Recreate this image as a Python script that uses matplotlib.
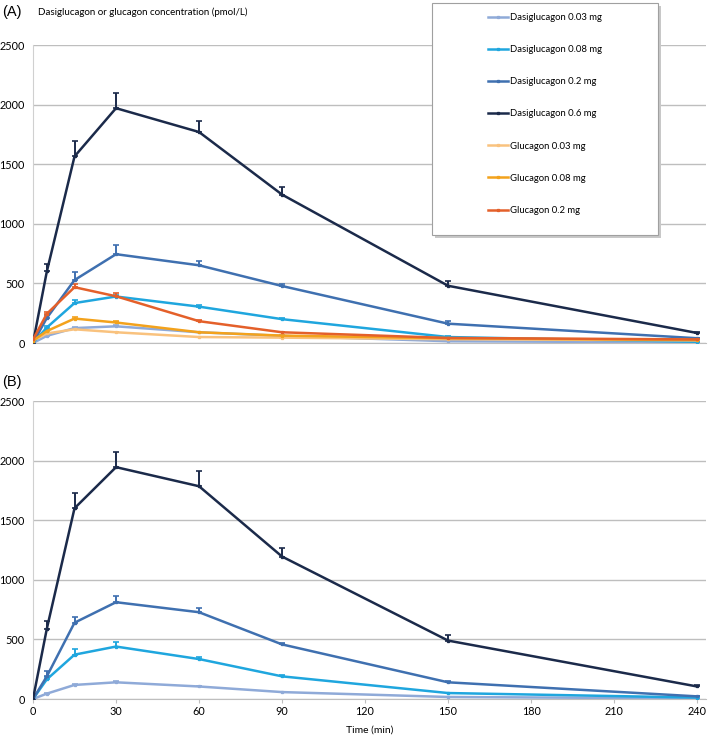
import numpy as np
import matplotlib.pyplot as plt
from matplotlib.patches import Rectangle

plt.rcParams['font.family'] = ['Lato', 'DejaVu Sans']

# --- sampling times (min) ---
TIME = [0, 5, 15, 30, 60, 90, 150, 240]

# --- panel A : mean concentration (pmol/L) ---
A_DASI_003 = [0, 60, 125, 140, 90, 60, 15, 5]
A_DASI_008 = [0, 130, 335, 390, 305, 200, 50, 10]
A_DASI_02 = [0, 210, 528, 745, 652, 478, 162, 40]
A_DASI_06 = [0, 600, 1565, 1970, 1770, 1245, 480, 84]
A_GLUC_003 = [20, 80, 115, 90, 50, 45, 32, 22]
A_GLUC_008 = [20, 100, 205, 172, 90, 62, 40, 25]
A_GLUC_02 = [30, 245, 468, 392, 183, 90, 42, 30]

# --- panel A : upper error (SD) ---
A_DASI_003_ERR = [0, 5, 10, 12, 6, 4, 2, 1]
A_DASI_008_ERR = [0, 15, 25, 15, 15, 10, 5, 2]
A_DASI_02_ERR = [0, 25, 65, 75, 38, 15, 20, 5]
A_DASI_06_ERR = [0, 60, 130, 125, 90, 60, 40, 8]
A_GLUC_003_ERR = [0, 5, 5, 5, 3, 3, 2, 1]
A_GLUC_008_ERR = [0, 8, 10, 10, 5, 4, 3, 2]
A_GLUC_02_ERR = [0, 12, 30, 25, 10, 6, 4, 3]

# --- panel B ---
B_DASI_003 = [0, 45, 118, 140, 105, 58, 17, 5]
B_DASI_008 = [0, 165, 372, 440, 335, 190, 50, 12]
B_DASI_02 = [0, 190, 640, 812, 728, 458, 140, 22]
B_DASI_06 = [0, 590, 1600, 1945, 1785, 1195, 490, 105]

B_DASI_003_ERR = [0, 5, 8, 8, 6, 4, 2, 1]
B_DASI_008_ERR = [0, 20, 45, 40, 15, 8, 4, 2]
B_DASI_02_ERR = [0, 45, 45, 50, 35, 15, 8, 3]
B_DASI_06_ERR = [0, 65, 125, 125, 125, 70, 45, 10]

LABELS = [
    "Dasiglucagon 0.03 mg", "Dasiglucagon 0.08 mg", "Dasiglucagon 0.2 mg",
    "Dasiglucagon 0.6 mg", "Glucagon 0.03 mg", "Glucagon 0.08 mg", "Glucagon 0.2 mg",
]
COLORS = ["#8FAAD8", "#1FA6DE", "#3F70B0", "#1B2A4A", "#F9C27E", "#F3A21C", "#E4602A"]

Y_TICKS = [0, 500, 1000, 1500, 2000, 2500]
X_TICKS = [0, 30, 60, 90, 120, 150, 180, 210, 240]


def draw_series(ax, y, err, color, label):
    y = np.array(y, dtype=float)
    err = np.array(err, dtype=float)
    ax.errorbar(TIME, y, yerr=[np.zeros_like(err), err], color=color,
                lw=1.8, elinewidth=1.4, capsize=2.5, capthick=1.2,
                marker="s", markersize=1.4, label=label, zorder=3)


def style_axes(ax, show_x):
    # gridlines run a little past the last time point, as in the original
    ax.set_xlim(0, 243.2)
    ax.set_ylim(0, 2500)
    ax.set_yticks(Y_TICKS)
    ax.set_xticks(X_TICKS)
    ax.grid(axis="y", color="#BEBEBE", lw=1.0)
    ax.set_axisbelow(True)
    for s in ["top", "right"]:
        ax.spines[s].set_visible(False)
    ax.spines["left"].set_color("#D0D0D0")
    ax.spines["bottom"].set_color("#BEBEBE")
    ax.tick_params(axis="y", length=0, labelsize=7.8, pad=6)
    if show_x:
        ax.tick_params(axis="x", length=3, color="#BEBEBE", labelsize=7.8, pad=2)
    else:
        ax.tick_params(axis="x", length=0, labelbottom=False)


fig = plt.figure(figsize=(7.09, 7.41), dpi=100)
ax_a = fig.add_axes([33 / 709, 1 - 343 / 741, 673 / 709, 298 / 741])
ax_b = fig.add_axes([33 / 709, 1 - 699 / 741, 673 / 709, 298 / 741])

panel_a = [
    (A_DASI_003, A_DASI_003_ERR), (A_DASI_008, A_DASI_008_ERR),
    (A_DASI_02, A_DASI_02_ERR), (A_DASI_06, A_DASI_06_ERR),
    (A_GLUC_003, A_GLUC_003_ERR), (A_GLUC_008, A_GLUC_008_ERR),
    (A_GLUC_02, A_GLUC_02_ERR),
]
for (y, e), c, lab in zip(panel_a, COLORS, LABELS):
    draw_series(ax_a, y, e, c, lab)

panel_b = [
    (B_DASI_003, B_DASI_003_ERR), (B_DASI_008, B_DASI_008_ERR),
    (B_DASI_02, B_DASI_02_ERR), (B_DASI_06, B_DASI_06_ERR),
]
for (y, e), c, lab in zip(panel_b, COLORS[:4], LABELS[:4]):
    draw_series(ax_b, y, e, c, lab)

style_axes(ax_a, False)
style_axes(ax_b, True)
ax_b.set_xlabel("Time (min)", fontsize=7.5, labelpad=6)

# panel labels and y-axis title
fig.text(2 / 709, 1 - 12 / 741, "(A)", fontsize=10.5, family="Liberation Sans", va="center")
fig.text(2 / 709, 1 - 382 / 741, "(B)", fontsize=10.5, family="Liberation Sans", va="center")
fig.text(38 / 709, 1 - 12 / 741, "Dasiglucagon or glucagon concentration (pmol/L)",
         fontsize=7, va="center")

# legend box with shadow
fig.patches.append(Rectangle((435 / 709, 1 - 238 / 741), 226 / 709, 232 / 741,
                             transform=fig.transFigure, facecolor="#C8C8C8",
                             edgecolor="none", zorder=3))
fig.patches.append(Rectangle((432 / 709, 1 - 235 / 741), 226 / 709, 232 / 741,
                             transform=fig.transFigure, facecolor="white",
                             edgecolor="#A0A0A0", lw=0.8, zorder=4))

handles = [plt.Line2D([], [], color=c, lw=1.8, marker="s", markersize=1.4) for c in COLORS]
fig.legend(handles, LABELS, loc="upper left", bbox_to_anchor=(488 / 709, 1 - 13 / 741),
           frameon=False, fontsize=6.8, handlelength=2.1, handletextpad=0.2,
           labelspacing=2.45, borderpad=0, borderaxespad=0)

fig.savefig("out.png", dpi=100)
